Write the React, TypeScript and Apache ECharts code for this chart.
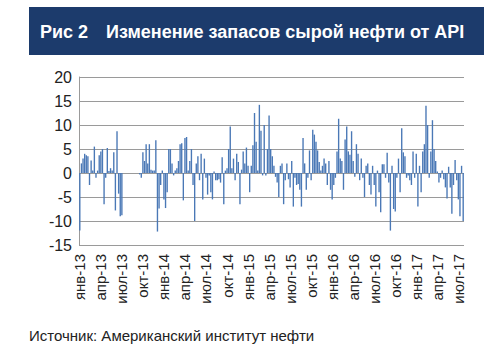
import React, { useEffect, useRef } from "react";
import * as echarts from "echarts";

// Weekly API crude stock changes, mln bbl
const values2013 = [
  -12, 2, 3, 4, 3.7, 3.5, -2.5, 2.6, 0.5, 5.5, -1, 0.5, 3.7, 4.5, 5, -6.5, -1, 5.2, 0.4, 1, 0.5, 4.3, -7.8, 8.7, -4.3, -9, -8.8,
  0, 0, 0, 0, 0, 0, 0, 0, 0, 0,
  -0.3, -1, 4.3, 2.5, 6, 2, 6, 0.7, 0.5, 0.5, 6.8, -12.2, -7.4, -2.5, 0.5,
];
const values2014 = [
  -5.5, -7.3, -4, 5, 5, 2, -0.5, 0.5, 1, 2.5, 6, 6.2, -5.7, 7.3, 7.5, 0.5, 2.5, 5, -2.5, -10, 2, 3.5, -1.5, 4, -5.5, 3, -1,
  -4.5, -0.5, -4, -5.5, 0.3, -1.5, -1.5, -1.3, -2, 3.3, -6.5, 0.5, 1, 5, 9.7, 1, 3, -1.5, 4, 2.3, -6.5, 0.7, 4.5, 2, 5.3,
];
const values2015 = [
  1.5, -4, 1.5, 5.8, 12.5, 6.5, 0.5, 14.2, 8.8, -0.5, 10, -0.5, 5, 12, 5,
  3.5, 1.5, -0.8, -2, -5, 1.5, 2, -6.5, -1.5, 2, -1.3, -3, 2.5, -7, -1, -2.5, -2.3, -3.5, -7, 7.3, 2, -3.5, -1, 4.7, -1.5,
  9, 8, 6.5, 4.7, 2.3, 0.5, 1.5, 3, 2, -2.5, 2.5, -3.5,
];
const values2016 = [
  -5.5, -2.5, -1, 4.5, 11.3, 3, 2.5, -3.5, 7, 9.7, 4.5, 3.8, 8.7, 2.5, -0.8, 6, 4, -1.5, 3, -1, -5, 1.5, 2, -2.5, -4.5, 1.5,
  -2.5, -7, 0.5, -4, -8.2, 1.8, 1.8, -1, 4.2, -2, -12, 1.5, -7.5, -8, -1, 3, -4, 9.3, 4.3, 3.5, -1, -0.5, -1.5, -2.5, 4.5, -1,
];
const values2017 = [
  4, -7, 1.5, -4, 4.5, 6, 14, 10, -1, 4.5, 11, 5, 2.5, 0.3, -2, -1, 0.5, -1.3, -3, -5.3, 1.3, -3, -8.5, -2.5, 2.7, -1.5,
  -5.5, -9, 1.5, -10,
];

const quarterLabels = [
  "янв-13", "апр-13", "июл-13", "окт-13",
  "янв-14", "апр-14", "июл-14", "окт-14",
  "янв-15", "апр-15", "июл-15", "окт-15",
  "янв-16", "апр-16", "июл-16", "окт-16",
  "янв-17", "апр-17", "июл-17",
];
const WEEKS_PER_QUARTER = 13;

const titleNo = "Рис 2";
const titleText = "Изменение запасов сырой нефти от API";
const sourceText = "Источник: Американский институт нефти";

const FONT = "'Liberation Sans', Arial, Helvetica, sans-serif";

export default function App() {
  const ref = useRef<HTMLDivElement>(null);

  useEffect(() => {
    if (!ref.current) return;
    const chart = echarts.init(ref.current, undefined, { renderer: "svg" });
    const values = [...values2013, ...values2014, ...values2015, ...values2016, ...values2017];
    const categories = values.map((_, i) =>
      i % WEEKS_PER_QUARTER === 0 && quarterLabels[i / WEEKS_PER_QUARTER]
        ? quarterLabels[i / WEEKS_PER_QUARTER]
        : "w" + i
    );

    chart.setOption({
      animation: false,
      backgroundColor: "#ffffff",
      grid: { left: 79, right: 36, top: 77, bottom: 113, containLabel: false },
      graphic: [
        {
          type: "rect",
          shape: { x: 29, y: 7, width: 455, height: 48 },
          style: { fill: "#1c3b6c" },
          silent: true,
        },
        {
          type: "text",
          x: 40,
          y: 32,
          style: {
            text: titleNo,
            fill: "#ffffff",
            font: `bold 18px ${FONT}`,
            verticalAlign: "middle",
          },
        },
        {
          type: "text",
          x: 106,
          y: 32,
          style: {
            text: titleText,
            fill: "#ffffff",
            font: `bold 18px ${FONT}`,
            verticalAlign: "middle",
          },
        },
        {
          type: "text",
          x: 29,
          y: 335,
          style: {
            text: sourceText,
            fill: "#222222",
            font: `15px ${FONT}`,
            verticalAlign: "middle",
          },
        },
      ],
      xAxis: {
        type: "category",
        data: categories,
        boundaryGap: true,
        axisLine: { show: false, onZero: false },
        axisTick: { show: false },
        axisLabel: {
          interval: (index: number) => index % WEEKS_PER_QUARTER === 0,
          rotate: 90,
          margin: 9,
          color: "#222222",
          fontSize: 15,
          fontFamily: FONT,
        },
        splitLine: { show: false },
      },
      yAxis: {
        type: "value",
        min: -15,
        max: 20,
        interval: 5,
        axisLine: { show: true, lineStyle: { color: "#9a9a9a", width: 1 } },
        axisTick: { show: false },
        axisLabel: { color: "#222222", fontSize: 16, fontFamily: FONT, margin: 7 },
        splitLine: { show: true, lineStyle: { color: "#9a9a9a", width: 1 } },
      },
      series: [
        {
          type: "bar",
          data: values,
          barCategoryGap: "15%",
          itemStyle: { color: "#4a78b6" },
        },
      ],
    });
    return () => chart.dispose();
  }, []);

  return (
    <div
      ref={ref}
      style={{ position: "fixed", left: 0, top: 0, width: 500, height: 358 }}
    />
  );
}
